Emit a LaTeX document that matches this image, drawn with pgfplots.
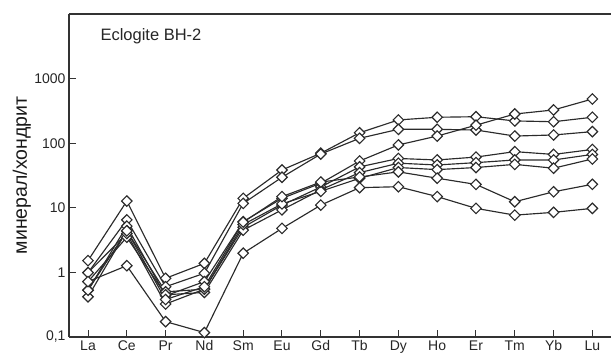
\documentclass[border=0pt]{standalone}
\usepackage{fontspec}
\setmainfont{Liberation Sans}
\usepackage{pgfplots}
\usepackage{pgfplotstable}
\pgfplotsset{compat=1.18}
\definecolor{ln}{HTML}{2B2B2B}
% columns: x index (La=0 ... Lu=13), s1..s8
\pgfplotstableread{
x  s1    s2    s3    s4    s5    s6    s7    s8
0  1.52  0.99  0.53  0.42  0.72  0.99  0.53  0.72
1  12.7  6.5   5.2   4.4   3.5   4.0   4.4   1.27
2  0.81  0.60  0.435 0.50  0.45  0.324 0.38  0.173
3  1.38  0.97  0.72  0.55  0.49  0.55  0.60  0.117
4  14.0  11.7  6.1   5.0   4.5   5.5   6.0   1.98
5  38.5  29.7  14.0  11.0  9.3   11.5  14.9  4.8
6  70    68    24    21    19    18    25    11
7  145   119   53    43    35    28.6  30    20.5
8  229   164   94    58    49    42    36    21.2
9  252   164   129   55    46    39    28.7  14.9
10 257   160   190   61    50    42    23    9.8
11 221   129   283   74    55    47    12.4  7.7
12 215   134   327   67    55    41    17.7  8.5
13 252   151   483   80    67    57    23.1  9.8
}\data
\begin{document}
\begin{tikzpicture}[x=1pt,y=1pt]
\useasboundingbox (0,0) rectangle (611,363);
\begin{axis}[at={(69pt,26pt)}, anchor=south west, scale only axis,
  width=542pt, height=323pt,
  ymode=log, ymin=0.1, ymax=10000, xmin=-0.49, xmax=13.48,
  separate axis lines, axis x line*=box, axis y line*=left,
  axis line style={line width=1.4pt, color=black!80},
  xtick={0,...,13}, xticklabels={La,Ce,Pr,Nd,Sm,Eu,Gd,Tb,Dy,Ho,Er,Tm,Yb,Lu},
  ytick={0.1,1,10,100,1000}, yticklabels={{0,1},1,10,100,1000},
  yminorticks=false, xminorticks=false,
  xtick pos=bottom, ytick pos=left, tick align=inside, major tick length=7pt,
  tick style={line width=1pt, color=black!80},
  ticklabel style={font=\fontsize{14}{16}\selectfont, text=black!85},
  ylabel={минерал/хондрит},
  ylabel style={at={(axis description cs:-0.0775,0.5)}, anchor=base,
    font=\fontsize{19.5}{22}\selectfont, text=black!90},
  clip=false,
  ree/.style={line width=1.15pt, color=ln,
    mark=square*, mark size=3.7pt,
    mark options={fill=white, solid, rotate=45, line width=1.15pt}},
]
\addplot[ree] table[x=x,y=s1]{\data};
\addplot[ree] table[x=x,y=s2]{\data};
\addplot[ree] table[x=x,y=s3]{\data};
\addplot[ree] table[x=x,y=s4]{\data};
\addplot[ree] table[x=x,y=s5]{\data};
\addplot[ree] table[x=x,y=s6]{\data};
\addplot[ree] table[x=x,y=s7]{\data};
\addplot[ree] table[x=x,y=s8]{\data};
\node[anchor=west, font=\fontsize{16.5}{19}\selectfont, text=black!85] at (rel axis cs:0.0517,0.932) {Eclogite BH-2};
\end{axis}
\end{tikzpicture}
\end{document}
